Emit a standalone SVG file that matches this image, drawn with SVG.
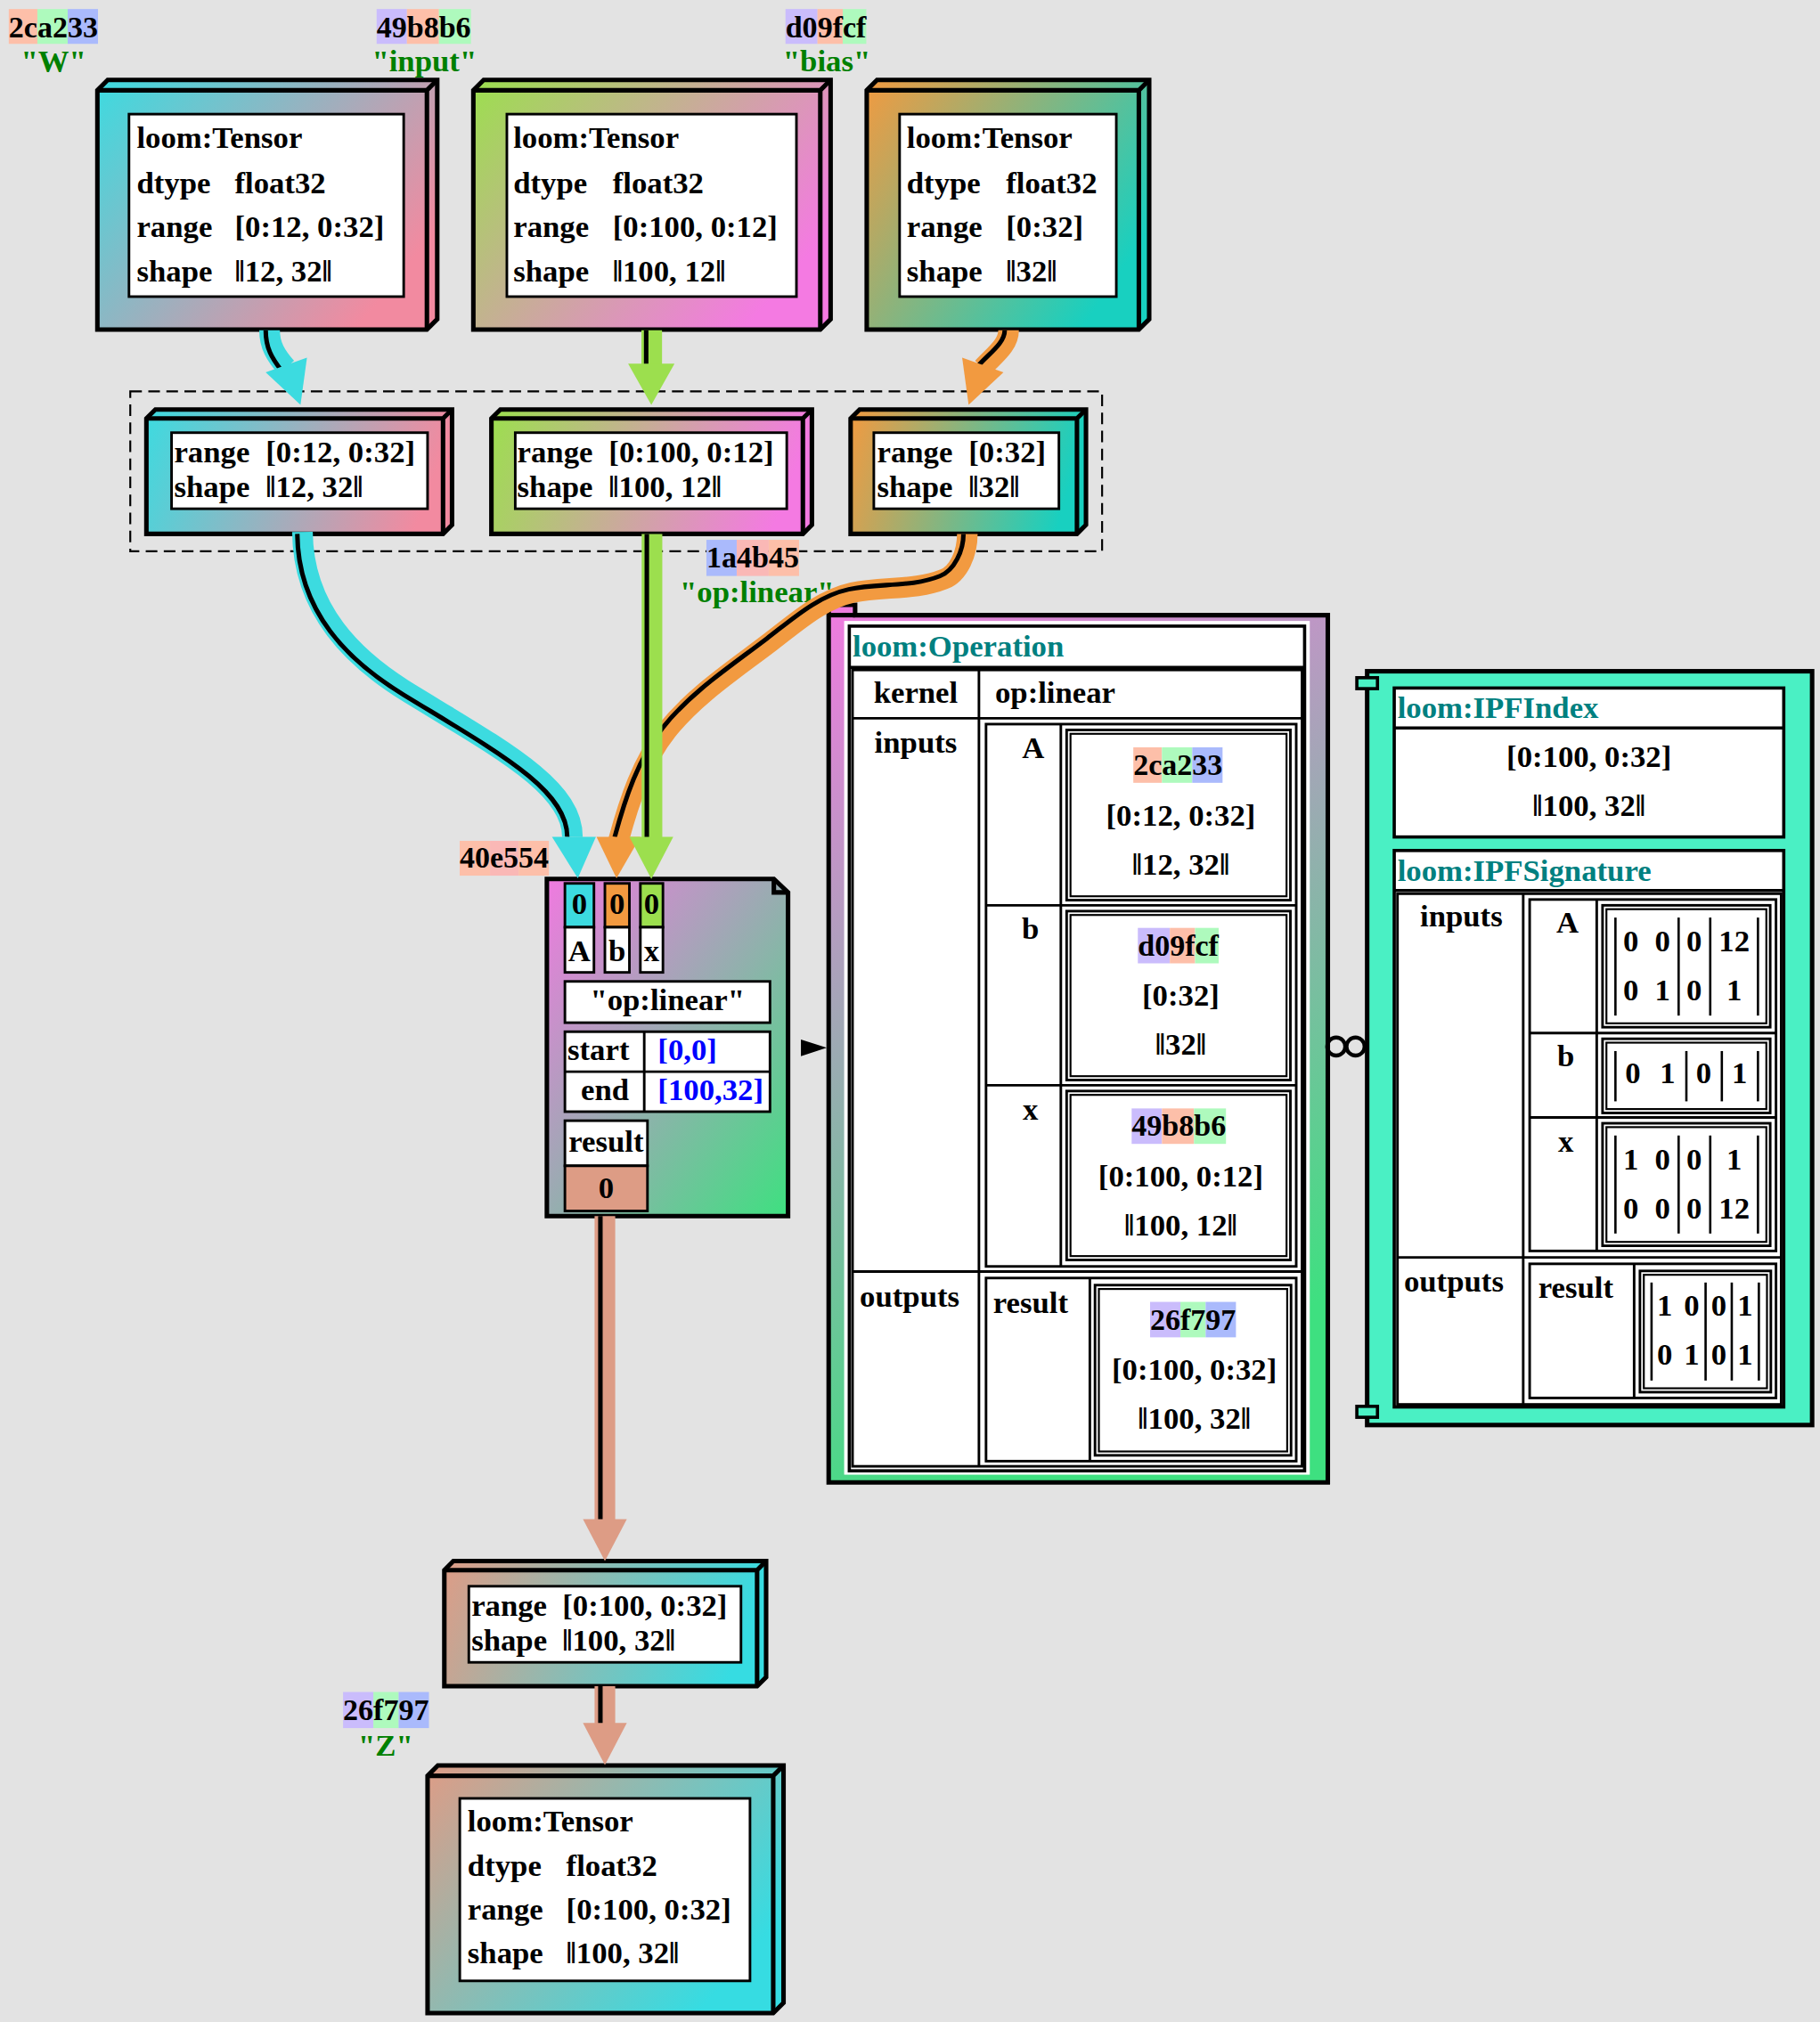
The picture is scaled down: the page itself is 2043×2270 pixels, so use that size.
<svg xmlns="http://www.w3.org/2000/svg" width="2043" height="2270" viewBox="0 0 2043 2270">
<defs>
<style>
text{font-family:"Liberation Serif","Times New Roman",serif;font-weight:bold;font-size:24px;fill:#000}
.g{fill:#008000}
.tl{fill:#008080}
.bl{fill:#0000ff}
.m{text-anchor:middle}
.hl{font-size:23.5px}
.ol{fill:none;stroke:#000;stroke-width:3.5;stroke-linejoin:miter}
.sh{stroke:#000;stroke-width:3.5;stroke-linejoin:miter}
.wb{fill:#fff;stroke:#000;stroke-width:2}
.ln{stroke:#000;stroke-width:2;fill:none}
.bar{stroke:#000;stroke-width:1.8}
.band{fill:none;stroke-width:16}
.blk{fill:none;stroke:#000;stroke-width:3.5}
.sa{fill:#fdbfa9}.sg{fill:#aefabd}.sb{fill:#aabafc}.sl{fill:#cabcfc}.sp{fill:#fab8b6}
</style>
<linearGradient id="gW" x1="0" y1="0" x2="1" y2="0.6"><stop offset="0" stop-color="#3cdbe0"/><stop offset="1" stop-color="#f28aa0"/></linearGradient>
<linearGradient id="gI" x1="0" y1="0" x2="1" y2="0.6"><stop offset="0" stop-color="#9cdf4e"/><stop offset="1" stop-color="#f47ae2"/></linearGradient>
<linearGradient id="gB" x1="0" y1="0" x2="1" y2="0.6"><stop offset="0" stop-color="#f29a40"/><stop offset="1" stop-color="#18d0c0"/></linearGradient>
<linearGradient id="gZ" x1="0" y1="0" x2="1" y2="0.6"><stop offset="0" stop-color="#de9c86"/><stop offset="1" stop-color="#36dce2"/></linearGradient>
<linearGradient id="gWs" x1="0" y1="0" x2="1" y2="0.15"><stop offset="0" stop-color="#3cdbe0"/><stop offset="1" stop-color="#f28aa0"/></linearGradient>
<linearGradient id="gIs" x1="0" y1="0" x2="1" y2="0.15"><stop offset="0" stop-color="#9cdf4e"/><stop offset="1" stop-color="#f47ae2"/></linearGradient>
<linearGradient id="gBs" x1="0" y1="0" x2="1" y2="0.15"><stop offset="0" stop-color="#f29a40"/><stop offset="1" stop-color="#18d0c0"/></linearGradient>
<linearGradient id="gZs" x1="0" y1="0" x2="1" y2="0.15"><stop offset="0" stop-color="#de9c86"/><stop offset="1" stop-color="#36dce2"/></linearGradient>
<linearGradient id="gOp" x1="0" y1="0" x2="1" y2="1"><stop offset="0" stop-color="#f07ae0"/><stop offset="1" stop-color="#3ee080"/></linearGradient>
<linearGradient id="gOb" x1="0" y1="0" x2="0.3" y2="1"><stop offset="0" stop-color="#f07ae0"/><stop offset="1" stop-color="#3ee080"/></linearGradient>
</defs>
<rect x="0" y="0" width="2043" height="2270" fill="#e3e3e3"/>
<g transform="scale(1.4478)">

<g id="cluster">
<rect x="101" y="303.5" width="753.5" height="124" fill="none" stroke="#000" stroke-width="1.5" stroke-dasharray="9,5"/>
</g>

<g id="tensorW">
<path d="M75.5,70 L83.5,62 L339,62 L339,247.5 L331,255.5 L75.5,255.5 Z" fill="url(#gW)" class="sh"/>
<path class="ol" d="M75.5,70 L331,70 L339,62 M331,70 L331,255.5"/>
<rect class="wb" x="100" y="88.5" width="213" height="141.5"/>
<text x="106" y="115">loom:Tensor</text>
<text x="106" y="150">dtype</text><text x="182" y="150">float32</text>
<text x="106" y="184">range</text><text x="182" y="184">[0:12, 0:32]</text>
<text x="106" y="218">shape</text><text x="182" y="218">‖12, 32‖</text>
<rect class="sa" x="6.8" y="7" width="22.18" height="27"/><rect class="sg" x="28.98" y="7" width="23.5" height="27"/><rect class="sb" x="52.48" y="7" width="23.5" height="27"/>
<text class="hl" x="6.8" y="29">2ca233</text>
<text class="g m" x="41.5" y="55">"W"</text>
</g>

<g id="tensorInput">
<path d="M367,70 L375,62 L644,62 L644,247.5 L636,255.5 L367,255.5 Z" fill="url(#gI)" class="sh"/>
<path class="ol" d="M367,70 L636,70 L644,62 M636,70 L636,255.5"/>
<rect class="wb" x="393" y="88.5" width="224.5" height="141.5"/>
<text x="398" y="115">loom:Tensor</text>
<text x="398" y="150">dtype</text><text x="475" y="150">float32</text>
<text x="398" y="184">range</text><text x="475" y="184">[0:100, 0:12]</text>
<text x="398" y="218">shape</text><text x="475" y="218">‖100, 12‖</text>
<rect class="sl" x="292" y="7" width="23.5" height="27"/><rect class="sa" x="315.5" y="7" width="24.82" height="27"/><rect class="sg" x="340.32" y="7" width="24.82" height="27"/>
<text class="hl" x="292" y="29">49b8b6</text>
<text class="g m" x="329" y="55">"input"</text>
</g>

<g id="tensorBias">
<path d="M672,70 L680,62 L891,62 L891,247.5 L883,255.5 L672,255.5 Z" fill="url(#gB)" class="sh"/>
<path class="ol" d="M672,70 L883,70 L891,62 M883,70 L883,255.5"/>
<rect class="wb" x="697.5" y="88.5" width="168" height="141.5"/>
<text x="703" y="115">loom:Tensor</text>
<text x="703" y="150">dtype</text><text x="780" y="150">float32</text>
<text x="703" y="184">range</text><text x="780" y="184">[0:32]</text>
<text x="703" y="218">shape</text><text x="780" y="218">‖32‖</text>
<rect class="sl" x="609" y="7" width="24.82" height="27"/><rect class="sa" x="633.82" y="7" width="19.58" height="27"/><rect class="sg" x="653.4" y="7" width="18.26" height="27"/>
<text class="hl" x="609" y="29">d09fcf</text>
<text class="g m" x="641" y="55">"bias"</text>
</g>

<g id="sliceW">
<path d="M113.5,324.5 L120.5,317.5 L350.5,317.5 L350.5,407 L343.5,414 L113.5,414 Z" fill="url(#gWs)" class="sh"/>
<path class="ol" d="M113.5,324.5 L343.5,324.5 L350.5,317.5 M343.5,324.5 L343.5,414"/>
<rect class="wb" x="133" y="335.5" width="198.5" height="59"/>
<text x="135" y="358.5">range</text><text x="206" y="358.5">[0:12, 0:32]</text>
<text x="135" y="385.5">shape</text><text x="206" y="385.5">‖12, 32‖</text>
</g>

<g id="sliceInput">
<path d="M381,324.5 L388,317.5 L629.5,317.5 L629.5,407 L622.5,414 L381,414 Z" fill="url(#gIs)" class="sh"/>
<path class="ol" d="M381,324.5 L622.5,324.5 L629.5,317.5 M622.5,324.5 L622.5,414"/>
<rect class="wb" x="399.5" y="335.5" width="210.5" height="59"/>
<text x="401" y="358.5">range</text><text x="472" y="358.5">[0:100, 0:12]</text>
<text x="401" y="385.5">shape</text><text x="472" y="385.5">‖100, 12‖</text>
</g>

<g id="sliceBias">
<path d="M659.5,324.5 L666.5,317.5 L842,317.5 L842,407 L835,414 L659.5,414 Z" fill="url(#gBs)" class="sh"/>
<path class="ol" d="M659.5,324.5 L835,324.5 L842,317.5 M835,324.5 L835,414"/>
<rect class="wb" x="677.5" y="335.5" width="143.5" height="59"/>
<text x="680" y="358.5">range</text><text x="751" y="358.5">[0:32]</text>
<text x="680" y="385.5">shape</text><text x="751" y="385.5">‖32‖</text>
</g>

<g id="opLabel">
<rect class="sb" x="547.7" y="418.6" width="23.5" height="28"/><rect class="sp" x="571.2" y="418.6" width="24.82" height="28"/><rect class="sa" x="596.02" y="418.6" width="23.5" height="28"/>
<text class="hl" x="547.7" y="440">1a4b45</text>
<text class="g" x="527" y="467">"op:linear"</text>
</g>

<g id="operation">
<path d="M642.5,1149.5 L642.5,469 L663,469 L663,477 L1029.5,477 L1029.5,1149.5 Z" fill="url(#gOb)" class="sh"/>
<path class="ol" d="M642.5,477 L663,477"/>
<rect x="654.5" y="481.5" width="361" height="662" fill="#fff"/>
<rect x="658.5" y="485.5" width="353" height="655" fill="#fff" stroke="#000" stroke-width="2.5"/>
<line x1="658.5" y1="517.5" x2="1011.5" y2="517.5" stroke="#000" stroke-width="2.5"/>
<text class="tl" x="661" y="509">loom:Operation</text>
<rect class="ln" x="661" y="519.5" width="348.5" height="617.5"/>
<line class="ln" x1="661" y1="557" x2="1009.5" y2="557"/>
<line class="ln" x1="759" y1="519.5" x2="759" y2="1137"/>
<line class="ln" x1="661" y1="986" x2="1009.5" y2="986"/>
<text class="m" x="710" y="545">kernel</text>
<text x="771.5" y="545">op:linear</text>
<text class="m" x="710" y="584">inputs</text>
<text x="666.6" y="1013">outputs</text>
<rect class="ln" x="764.5" y="561.5" width="240.5" height="420.5"/>
<line class="ln" x1="822.5" y1="561.5" x2="822.5" y2="982"/>
<line class="ln" x1="764.5" y1="702" x2="1005" y2="702"/>
<line class="ln" x1="764.5" y1="841.5" x2="1005" y2="841.5"/>
<rect class="ln" x="827" y="566" width="173.5" height="132"/><rect x="830" y="569" width="167.5" height="126" fill="none" stroke="#000" stroke-width="1.5"/>
<rect class="ln" x="827" y="706.5" width="173.5" height="131"/><rect x="830" y="709.5" width="167.5" height="125" fill="none" stroke="#000" stroke-width="1.5"/>
<rect class="ln" x="827" y="846" width="173.5" height="131"/><rect x="830" y="849" width="167.5" height="125" fill="none" stroke="#000" stroke-width="1.5"/>
<text class="m" x="801" y="588">A</text>
<text class="m" x="799" y="728">b</text>
<text class="m" x="799" y="868">x</text>
<rect class="sa" x="878.7" y="579.5" width="22.18" height="27.5"/><rect class="sg" x="900.88" y="579.5" width="23.5" height="27.5"/><rect class="sb" x="924.38" y="579.5" width="23.5" height="27.5"/>
<text class="hl" x="878.7" y="601">2ca233</text>
<text class="m" x="915.5" y="640">[0:12, 0:32]</text>
<text class="m" x="915.5" y="678">‖12, 32‖</text>
<rect class="sl" x="882.2" y="719.5" width="24.82" height="27.5"/><rect class="sa" x="907.02" y="719.5" width="19.58" height="27.5"/><rect class="sg" x="926.6" y="719.5" width="18.26" height="27.5"/>
<text class="hl" x="882.2" y="741">d09fcf</text>
<text class="m" x="915.5" y="780">[0:32]</text>
<text class="m" x="915.5" y="818">‖32‖</text>
<rect class="sl" x="877.4" y="859.5" width="23.5" height="27.5"/><rect class="sa" x="900.9" y="859.5" width="24.82" height="27.5"/><rect class="sg" x="925.72" y="859.5" width="24.82" height="27.5"/>
<text class="hl" x="877.4" y="881">49b8b6</text>
<text class="m" x="915.5" y="920">[0:100, 0:12]</text>
<text class="m" x="915.5" y="958">‖100, 12‖</text>
<rect class="ln" x="764.5" y="991" width="240.5" height="142"/>
<line class="ln" x1="845" y1="991" x2="845" y2="1133"/>
<rect class="ln" x="849" y="996.5" width="152" height="132"/><rect x="852" y="999.5" width="146" height="126" fill="none" stroke="#000" stroke-width="1.5"/>
<text x="770" y="1018">result</text>
<rect class="sl" x="891.7" y="1009.5" width="23.5" height="27.5"/><rect class="sg" x="915.2" y="1009.5" width="19.58" height="27.5"/><rect class="sb" x="934.78" y="1009.5" width="23.5" height="27.5"/>
<text class="hl" x="891.7" y="1031">26f797</text>
<text class="m" x="926" y="1070">[0:100, 0:32]</text>
<text class="m" x="926" y="1108">‖100, 32‖</text>
</g>

<g id="ipf">
<rect x="1060" y="520.5" width="345" height="584.5" fill="#4af0c4" stroke="#000" stroke-width="3.5"/>
<rect x="1052" y="525.5" width="16" height="8.5" fill="#4af0c4" stroke="#000" stroke-width="2.5"/>
<rect x="1052" y="1090.5" width="16" height="8.5" fill="#4af0c4" stroke="#000" stroke-width="2.5"/>
<rect x="1081" y="533.5" width="302" height="115.5" fill="#fff" stroke="#000" stroke-width="2.5"/>
<line x1="1081" y1="564.5" x2="1383" y2="564.5" stroke="#000" stroke-width="2.5"/>
<text class="tl" x="1083.5" y="557">loom:IPFIndex</text>
<text class="m" x="1232" y="595">[0:100, 0:32]</text>
<text class="m" x="1232" y="633">‖100, 32‖</text>
<rect x="1081" y="659.5" width="302" height="431.5" fill="#fff" stroke="#000" stroke-width="2.5"/>
<line x1="1081" y1="690.5" x2="1383" y2="690.5" stroke="#000" stroke-width="2.5"/>
<text class="tl" x="1083.5" y="683">loom:IPFSignature</text>
<rect class="ln" x="1083.5" y="693" width="297.5" height="396"/>
<line class="ln" x1="1181" y1="693" x2="1181" y2="1089"/>
<line class="ln" x1="1083.5" y1="975" x2="1381" y2="975"/>
<text class="m" x="1133" y="718">inputs</text>
<text x="1088.5" y="1001.5">outputs</text>
<rect class="ln" x="1186" y="697.5" width="191" height="272.5"/>
<line class="ln" x1="1238" y1="697.5" x2="1238" y2="970"/>
<line class="ln" x1="1186" y1="801" x2="1377" y2="801"/>
<line class="ln" x1="1186" y1="866.5" x2="1377" y2="866.5"/>
<text class="m" x="1215.4" y="723">A</text>
<text class="m" x="1214" y="826.5">b</text>
<text class="m" x="1214" y="893">x</text>
<rect class="ln" x="1242.5" y="702" width="130" height="94.5"/><rect x="1245.5" y="705" width="124" height="88.5" fill="none" stroke="#000" stroke-width="1.5"/>
<rect class="ln" x="1242.5" y="805.5" width="130" height="57.5"/><rect x="1245.5" y="808.5" width="124" height="51.5" fill="none" stroke="#000" stroke-width="1.5"/>
<rect class="ln" x="1242.5" y="871" width="130" height="95"/><rect x="1245.5" y="874" width="124" height="89" fill="none" stroke="#000" stroke-width="1.5"/>
<line class="bar" x1="1252.5" y1="711.5" x2="1252.5" y2="787.5"/><line class="bar" x1="1301.5" y1="711.5" x2="1301.5" y2="787.5"/><line class="bar" x1="1326" y1="711.5" x2="1326" y2="787.5"/><line class="bar" x1="1363" y1="711.5" x2="1363" y2="787.5"/>
<text class="m" x="1264.5" y="738">0</text><text class="m" x="1289" y="738">0</text><text class="m" x="1313.5" y="738">0</text><text class="m" x="1344.6" y="738">12</text>
<text class="m" x="1264.5" y="776">0</text><text class="m" x="1289" y="776">1</text><text class="m" x="1313.5" y="776">0</text><text class="m" x="1344.6" y="776">1</text>
<line class="bar" x1="1252.5" y1="815" x2="1252.5" y2="854"/><line class="bar" x1="1307.5" y1="815" x2="1307.5" y2="854"/><line class="bar" x1="1335" y1="815" x2="1335" y2="854"/><line class="bar" x1="1363" y1="815" x2="1363" y2="854"/>
<text class="m" x="1266" y="840">0</text><text class="m" x="1293" y="840">1</text><text class="m" x="1321" y="840">0</text><text class="m" x="1348.7" y="840">1</text>
<line class="bar" x1="1252.5" y1="880.5" x2="1252.5" y2="956.5"/><line class="bar" x1="1301.5" y1="880.5" x2="1301.5" y2="956.5"/><line class="bar" x1="1326" y1="880.5" x2="1326" y2="956.5"/><line class="bar" x1="1363" y1="880.5" x2="1363" y2="956.5"/>
<text class="m" x="1264.5" y="907">1</text><text class="m" x="1289" y="907">0</text><text class="m" x="1313.5" y="907">0</text><text class="m" x="1344.6" y="907">1</text>
<text class="m" x="1264.5" y="945">0</text><text class="m" x="1289" y="945">0</text><text class="m" x="1313.5" y="945">0</text><text class="m" x="1344.6" y="945">12</text>
<rect class="ln" x="1186" y="980" width="191" height="104"/>
<line class="ln" x1="1267" y1="980" x2="1267" y2="1084"/>
<text x="1192.7" y="1006.5">result</text>
<rect class="ln" x="1271.5" y="985.5" width="101.5" height="94"/><rect x="1274.5" y="988.5" width="95.5" height="88" fill="none" stroke="#000" stroke-width="1.5"/>
<line class="bar" x1="1280.5" y1="994.5" x2="1280.5" y2="1070.5"/><line class="bar" x1="1322.4" y1="994.5" x2="1322.4" y2="1070.5"/><line class="bar" x1="1342.7" y1="994.5" x2="1342.7" y2="1070.5"/><line class="bar" x1="1363.7" y1="994.5" x2="1363.7" y2="1070.5"/>
<text class="m" x="1290.8" y="1020">1</text><text class="m" x="1311.6" y="1020">0</text><text class="m" x="1332.6" y="1020">0</text><text class="m" x="1353" y="1020">1</text>
<text class="m" x="1290.8" y="1058">0</text><text class="m" x="1311.6" y="1058">1</text><text class="m" x="1332.6" y="1058">0</text><text class="m" x="1353" y="1058">1</text>
</g>

<g id="opNode">
<path d="M424,681.5 L600,681.5 L611,692 L611,943 L424,943 Z" fill="url(#gOp)" class="sh"/>
<path class="ol" d="M600,681.5 L600,692 L611,692"/>
<rect class="wb" x="438" y="685" width="22.5" height="34" style="fill:#3cdbe0"/>
<rect class="wb" x="438" y="719" width="22.5" height="35"/>
<rect class="wb" x="469" y="685" width="19" height="34" style="fill:#f29a40"/>
<rect class="wb" x="469" y="719" width="19" height="35"/>
<rect class="wb" x="496.5" y="685" width="17.5" height="34" style="fill:#9cdf4e"/>
<rect class="wb" x="496.5" y="719" width="17.5" height="35"/>
<text class="m" x="449.2" y="709">0</text><text class="m" x="449.2" y="745">A</text>
<text class="m" x="478.5" y="709">0</text><text class="m" x="478.5" y="745">b</text>
<text class="m" x="505.2" y="709">0</text><text class="m" x="505.2" y="745">x</text>
<rect class="wb" x="438" y="761" width="159" height="32"/>
<text class="m" x="517.5" y="783">"op:linear"</text>
<rect class="wb" x="438" y="800" width="159" height="62"/>
<line class="ln" x1="499.5" y1="800" x2="499.5" y2="862"/>
<line class="ln" x1="438" y1="831" x2="597" y2="831"/>
<text x="440" y="822">start</text><text class="bl" x="510" y="822">[0,0]</text>
<text class="m" x="469" y="853">end</text><text class="bl" x="510" y="853">[100,32]</text>
<rect class="wb" x="438" y="869" width="64" height="35"/>
<rect class="wb" x="438" y="904" width="64" height="35" style="fill:#dd9c85"/>
<text class="m" x="470" y="893">result</text>
<text class="m" x="470" y="929">0</text>
<rect class="sa" x="356.4" y="652" width="23.5" height="27"/><rect class="sp" x="379.9" y="652" width="22.18" height="27"/><rect class="sa" x="402.08" y="652" width="23.5" height="27"/>
<text class="hl" x="356.4" y="673">40e554</text>
</g>

<g id="sliceOut">
<path d="M344.5,1217.5 L351.5,1210.5 L594,1210.5 L594,1300.5 L587,1307.5 L344.5,1307.5 Z" fill="url(#gZs)" class="sh"/>
<path class="ol" d="M344.5,1217.5 L587,1217.5 L594,1210.5 M587,1217.5 L587,1307.5"/>
<rect class="wb" x="363.5" y="1230" width="211" height="59"/>
<text x="365.5" y="1253">range</text><text x="436" y="1253">[0:100, 0:32]</text>
<text x="365.5" y="1280">shape</text><text x="436" y="1280">‖100, 32‖</text>
</g>

<g id="tensorZ">
<path d="M331.5,1377 L339.5,1369 L607.5,1369 L607.5,1553 L599.5,1561 L331.5,1561 Z" fill="url(#gZ)" class="sh"/>
<path class="ol" d="M331.5,1377 L599.5,1377 L607.5,1369 M599.5,1377 L599.5,1561"/>
<rect class="wb" x="356.5" y="1394.5" width="225" height="141.5"/>
<text x="362.5" y="1420">loom:Tensor</text>
<text x="362.5" y="1454.5">dtype</text><text x="439" y="1454.5">float32</text>
<text x="362.5" y="1488.5">range</text><text x="439" y="1488.5">[0:100, 0:32]</text>
<text x="362.5" y="1522.5">shape</text><text x="439" y="1522.5">‖100, 32‖</text>
<rect class="sl" x="266" y="1312" width="23.5" height="28"/><rect class="sg" x="289.5" y="1312" width="19.58" height="28"/><rect class="sb" x="309.08" y="1312" width="23.5" height="28"/>
<text class="hl" x="266" y="1334">26f797</text>
<text class="g m" x="299" y="1361.5">"Z"</text>
</g>

<g id="connectors">
<path class="band" stroke="#3cdbe0" d="M209,256 C209,268 214,276 222,285"/>
<path class="blk" d="M206,256 C206,270 211,278 218,287"/>
<polygon fill="#3cdbe0" points="206,288.7 238,277.3 233,314"/>
<path class="band" stroke="#9cdf4e" d="M505.3,256 L505.3,284"/>
<line class="blk" x1="501" y1="256" x2="501" y2="284"/>
<polygon fill="#9cdf4e" points="487,282 523,282 505,314"/>
<path class="band" stroke="#f29a40" d="M782,256 C782,268 770,276 762,285"/>
<path class="blk" d="M779,256 C779,266 767,274 759,283"/>
<polygon fill="#f29a40" points="746,277.3 778,288.7 751,314"/>

<path class="band" stroke="#3cdbe0" d="M234.5,412.5 C235,473.5 274.5,511.3 317,537.3 C389.3,581.5 444,610.5 443.8,649"/>
<path class="blk" d="M230.5,414 C231,475 270.5,512.8 313,538.8 C385.3,583 440,612 439.8,649"/>
<polygon fill="#3cdbe0" points="428,649 462,649 448,681"/>
<path class="band" stroke="#f29a40" d="M750,414 C750,429 743.3,444.6 731.7,449.2 C709.6,458 684.3,454.5 661,459.5 C636.9,464.7 617.3,482.6 597.7,497.5 C569.6,519 539,538.9 517,566.5 C497.8,590.7 487.7,621.6 479.6,651.5"/>
<path class="blk" d="M747,414 C747,426.5 740.3,442.1 728.7,446.7 C706.6,455.5 681.3,452 658,457 C633.9,462.2 614.3,480.1 594.7,495 C566.6,516.5 536,536.4 514,564 C494.8,588.2 484.7,619.1 476.6,649"/>
<polygon fill="#f29a40" points="462.5,649 496.5,649 478,681"/>
<path class="band" stroke="#9cdf4e" d="M505.5,414 L505.5,650"/>
<line class="blk" x1="501.5" y1="414" x2="501.5" y2="650"/>
<polygon fill="#9cdf4e" points="488,649 522,649 505,681.5"/>

<path class="band" stroke="#dd9c85" d="M469,943 L469,1179"/>
<line class="blk" x1="465.5" y1="943" x2="465.5" y2="1179"/>
<polygon fill="#dd9c85" points="452,1178 486,1178 469,1210.5"/>
<path class="band" stroke="#dd9c85" d="M469,1307.5 L469,1337"/>
<line class="blk" x1="465.5" y1="1307.5" x2="465.5" y2="1337"/>
<polygon fill="#dd9c85" points="452,1336 486,1336 469,1368.6"/>

<polygon fill="#000" points="621,806 641,812.5 621,819"/>
<circle cx="1036" cy="811.5" r="7" fill="none" stroke="#000" stroke-width="3"/>
<circle cx="1051" cy="811.5" r="7" fill="none" stroke="#000" stroke-width="3"/>
</g>
</g>
</svg>
